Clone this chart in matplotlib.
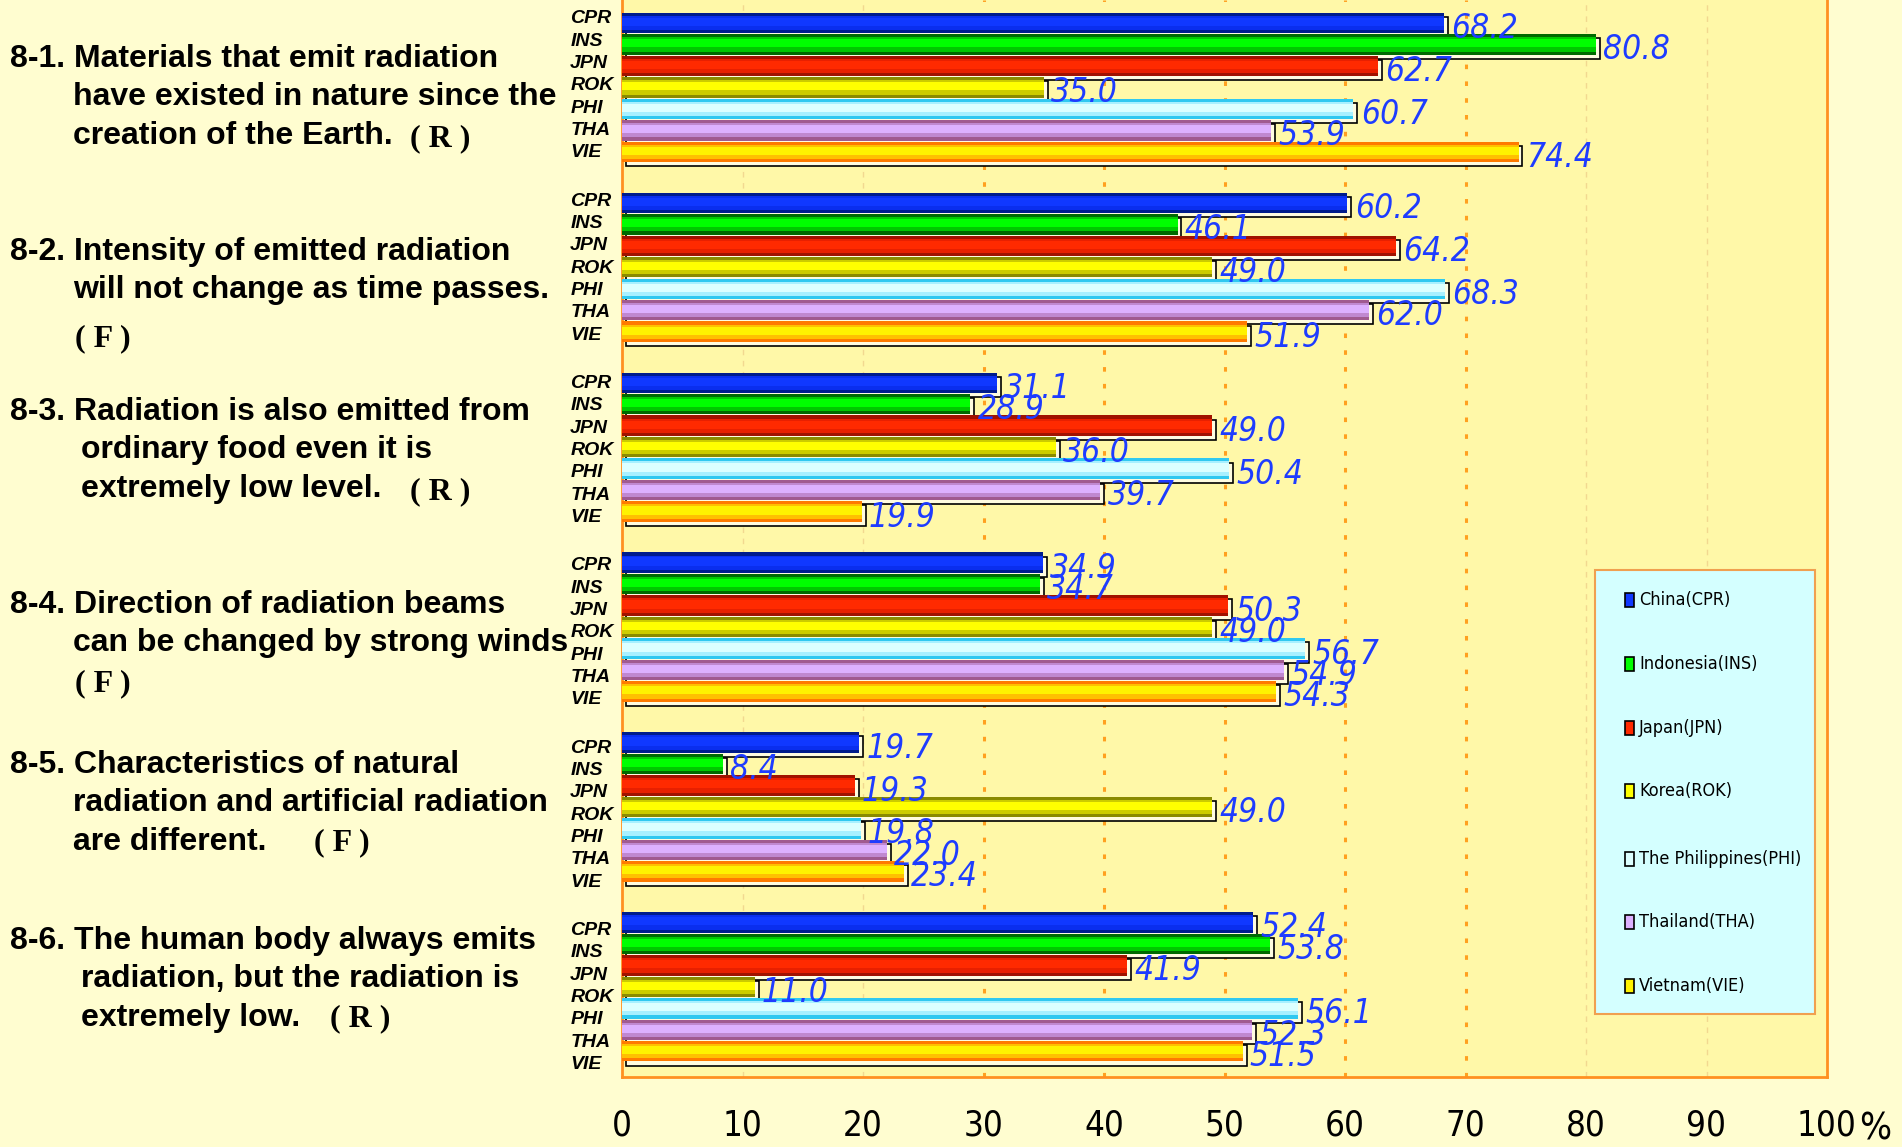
import os
import numpy as np
import matplotlib.pyplot as plt
from matplotlib.patches import Rectangle
from matplotlib import font_manager as fm
from matplotlib.transforms import blended_transform_factory

# data
codes = ['CPR', 'INS', 'JPN', 'ROK', 'PHI', 'THA', 'VIE']
names = ['China(CPR)', 'Indonesia(INS)', 'Japan(JPN)', 'Korea(ROK)',
         'The Philippines(PHI)', 'Thailand(THA)', 'Vietnam(VIE)']
q1 = [68.2, 80.8, 62.7, 35.0, 60.7, 53.9, 74.4]
q2 = [60.2, 46.1, 64.2, 49.0, 68.3, 62.0, 51.9]
q3 = [31.1, 28.9, 49.0, 36.0, 50.4, 39.7, 19.9]
q4 = [34.9, 34.7, 50.3, 49.0, 56.7, 54.9, 54.3]
q5 = [19.7, 8.4, 19.3, 49.0, 19.8, 22.0, 23.4]
q6 = [52.4, 53.8, 41.9, 11.0, 56.1, 52.3, 51.5]
groups = [q1, q2, q3, q4, q5, q6]
xticks = [0, 10, 20, 30, 40, 50, 60, 70, 80, 90, 100]
xticklabels = ['0', '10', '20', '30', '40', '50', '60', '70', '80', '90', '100']

questions = [
    [("8-1. Materials that emit radiation", 8, 47),
     ("have existed in nature since the", 60, 78),
     ("creation of the Earth.", 60, 110)],
    [("8-2. Intensity of emitted radiation", 8, 206),
     ("will not change as time passes.", 60, 237)],
    [("8-3. Radiation is also emitted from", 8, 338),
     ("ordinary food even it is", 67, 369),
     ("extremely low level.", 67, 401)],
    [("8-4. Direction of radiation beams", 8, 497),
     ("can be changed by strong winds", 60, 528)],
    [("8-5. Characteristics of natural", 8, 629),
     ("radiation and artificial radiation", 60, 660),
     ("are different.", 60, 692)],
    [("8-6. The human body always emits", 8, 774),
     ("radiation, but the radiation is", 67, 805),
     ("extremely low.", 67, 837)],
]
answers = [("( R )", 338, 112), ("( F )", 62, 277), ("( R )", 338, 403),
           ("( F )", 62, 562), ("( F )", 259, 693), ("( R )", 272, 838)]

# dark / mid / light shades per country
dark = ['#001C8C', '#006A00', '#A01200', '#8A8A00', '#30C8F0', '#A05A90', '#FF7A00']
mid = ['#0A2EEE', '#00C800', '#E82000', '#CCCC00', '#A8F0FF', '#C088D0', '#FFC000']
light = ['#1038FF', '#00FF00', '#FF2A00', '#FFFF00', '#DCFFFF', '#DDB0FF', '#FFF200']


# look for a narrow / condensed face among the installed fonts
def narrow_font(italic):
    found = []
    for f in fm.fontManager.ttflist:
        nm = (f.name + ' ' + os.path.basename(f.fname)).lower()
        st = f.stretch
        cond = 'narrow' in nm or 'condensed' in nm
        if isinstance(st, str):
            cond = cond or 'condensed' in st
        elif isinstance(st, (int, float)):
            cond = cond or st < 500
        if not cond:
            continue
        w = f.weight
        if isinstance(w, str):
            w = fm.weight_dict.get(w, 400)
        if w < 350 or w > 550:
            continue
        if (f.style in ('italic', 'oblique')) != italic:
            continue
        if 'cjk' in nm or 'mono' in nm:
            continue
        found.append(f.fname)
    found.sort(key=lambda p: ('liberation' not in p.lower(), 'extra' in p.lower(), p))
    return found[0] if found else None


fn_up = narrow_font(False)
fn_it = narrow_font(True)
if fn_up:
    p_tick = fm.FontProperties(fname=fn_up, size=25)
    p_pct = fm.FontProperties(fname=fn_up, size=27)
    p_leg = fm.FontProperties(fname=fn_up, size=13)
else:
    p_tick = fm.FontProperties(family='DejaVu Sans', size=22)
    p_pct = fm.FontProperties(family='DejaVu Sans', size=24)
    p_leg = fm.FontProperties(family='DejaVu Sans', size=11)
if fn_it:
    p_val = fm.FontProperties(fname=fn_it, size=24)
elif fn_up:
    p_val = fm.FontProperties(fname=fn_up, size=24, style='italic')
else:
    p_val = fm.FontProperties(family='DejaVu Sans', style='italic', size=19)

W, H = 1902, 1147
S = 1902 / 1568.0  # shrunk -> full

fig = plt.figure(figsize=(W / 100, H / 100), dpi=100, facecolor='#FFFDD0')
ax = fig.add_axes([622 / W, 1 - 1077 / H, (1827 - 622) / W, 1077 / H])
ax.set_facecolor('#FFF8A8')

GAP = 8.38
h = 0.95
dx, dy = 0.33, 0.19

for i in range(len(codes)):
    vals = np.array([g[i] for g in groups])
    ys = np.arange(len(groups)) * GAP + i
    z = 3 + i * 2
    ax.barh(ys + dy, vals, left=dx, height=h, color='#FFFCE0', edgecolor='black', lw=1.2, zorder=z)
    ax.barh(ys, vals, height=h, color=dark[i], zorder=z)
    ax.barh(ys, vals, height=h * 0.7, color=mid[i], zorder=z)
    ax.barh(ys - 0.05, vals, height=h * 0.4, color=light[i], zorder=z)
    for g, (y, v) in enumerate(zip(ys, vals)):
        ax.text(v + 0.6, y + 0.7, '%.1f' % v, color='#1E3CFF', fontproperties=p_val,
                ha='left', va='baseline', zorder=40)
        off = (-5 + 2 * g + 0.7 * i) / 17.7 + 0.3
        ax.text(-4.3, y + off, codes[i], fontsize=14, fontweight='bold', style='italic',
                family='Liberation Sans', ha='left', va='baseline', clip_on=False)

for x in [10, 20, 80, 90]:
    ax.axvline(x, color='#F2D890', lw=1, ls=(0, (4, 4)), zorder=1)
for x in [30, 40, 50, 60, 70]:
    ax.axvline(x, color='#FFA020', lw=2.2, ls=(0, (1.5, 4)), zorder=1)

ax.set_xlim(0, 100)
ax.set_ylim(49.1, -1.07)
ax.set_yticks([])
ax.set_xticks(xticks)
ax.set_xticklabels(xticklabels, fontproperties=p_tick)
ax.tick_params(axis='x', length=0, pad=23)
for s in ['left', 'bottom', 'right']:
    ax.spines[s].set_color('#FF9020')
    ax.spines[s].set_linewidth(2)
ax.spines['top'].set_visible(False)
tr = blended_transform_factory(ax.transData, fig.transFigure)
ax.text(102.7, 1 - 1140 / H, '%', fontproperties=p_pct, transform=tr,
        ha='left', va='baseline', clip_on=False)

# question texts
for lines in questions:
    for t, x, y in lines:
        fig.text(x * S / W, 1 - (y + 2) * S / H, t, fontsize=23, fontweight='bold',
                 family='Liberation Sans', ha='left', va='center')
for t, x, y in answers:
    fig.text(x * S / W, 1 - (y + 2) * S / H, t, fontsize=23, fontweight='bold',
             family='Liberation Serif', ha='left', va='center')

# legend box
fig.add_artist(Rectangle((1595 / W, 1 - 1014 / H), 220 / W, 444 / H, transform=fig.transFigure,
                         facecolor='#D4FFFF', edgecolor='#F0A050', lw=1.5, zorder=20))
leg_y = [600, 664, 728, 791, 859, 922, 986]
for i in range(len(codes)):
    y = leg_y[i]
    fig.add_artist(Rectangle((1625 / W, 1 - (y + 7) / H), 9 / W, 14 / H, transform=fig.transFigure,
                             facecolor=light[i], edgecolor='black', lw=1.2, zorder=21))
    fig.text(1639 / W, 1 - y / H, names[i], fontproperties=p_leg,
             ha='left', va='center', zorder=22)

fig.savefig('out.png', dpi=100, facecolor=fig.get_facecolor())
